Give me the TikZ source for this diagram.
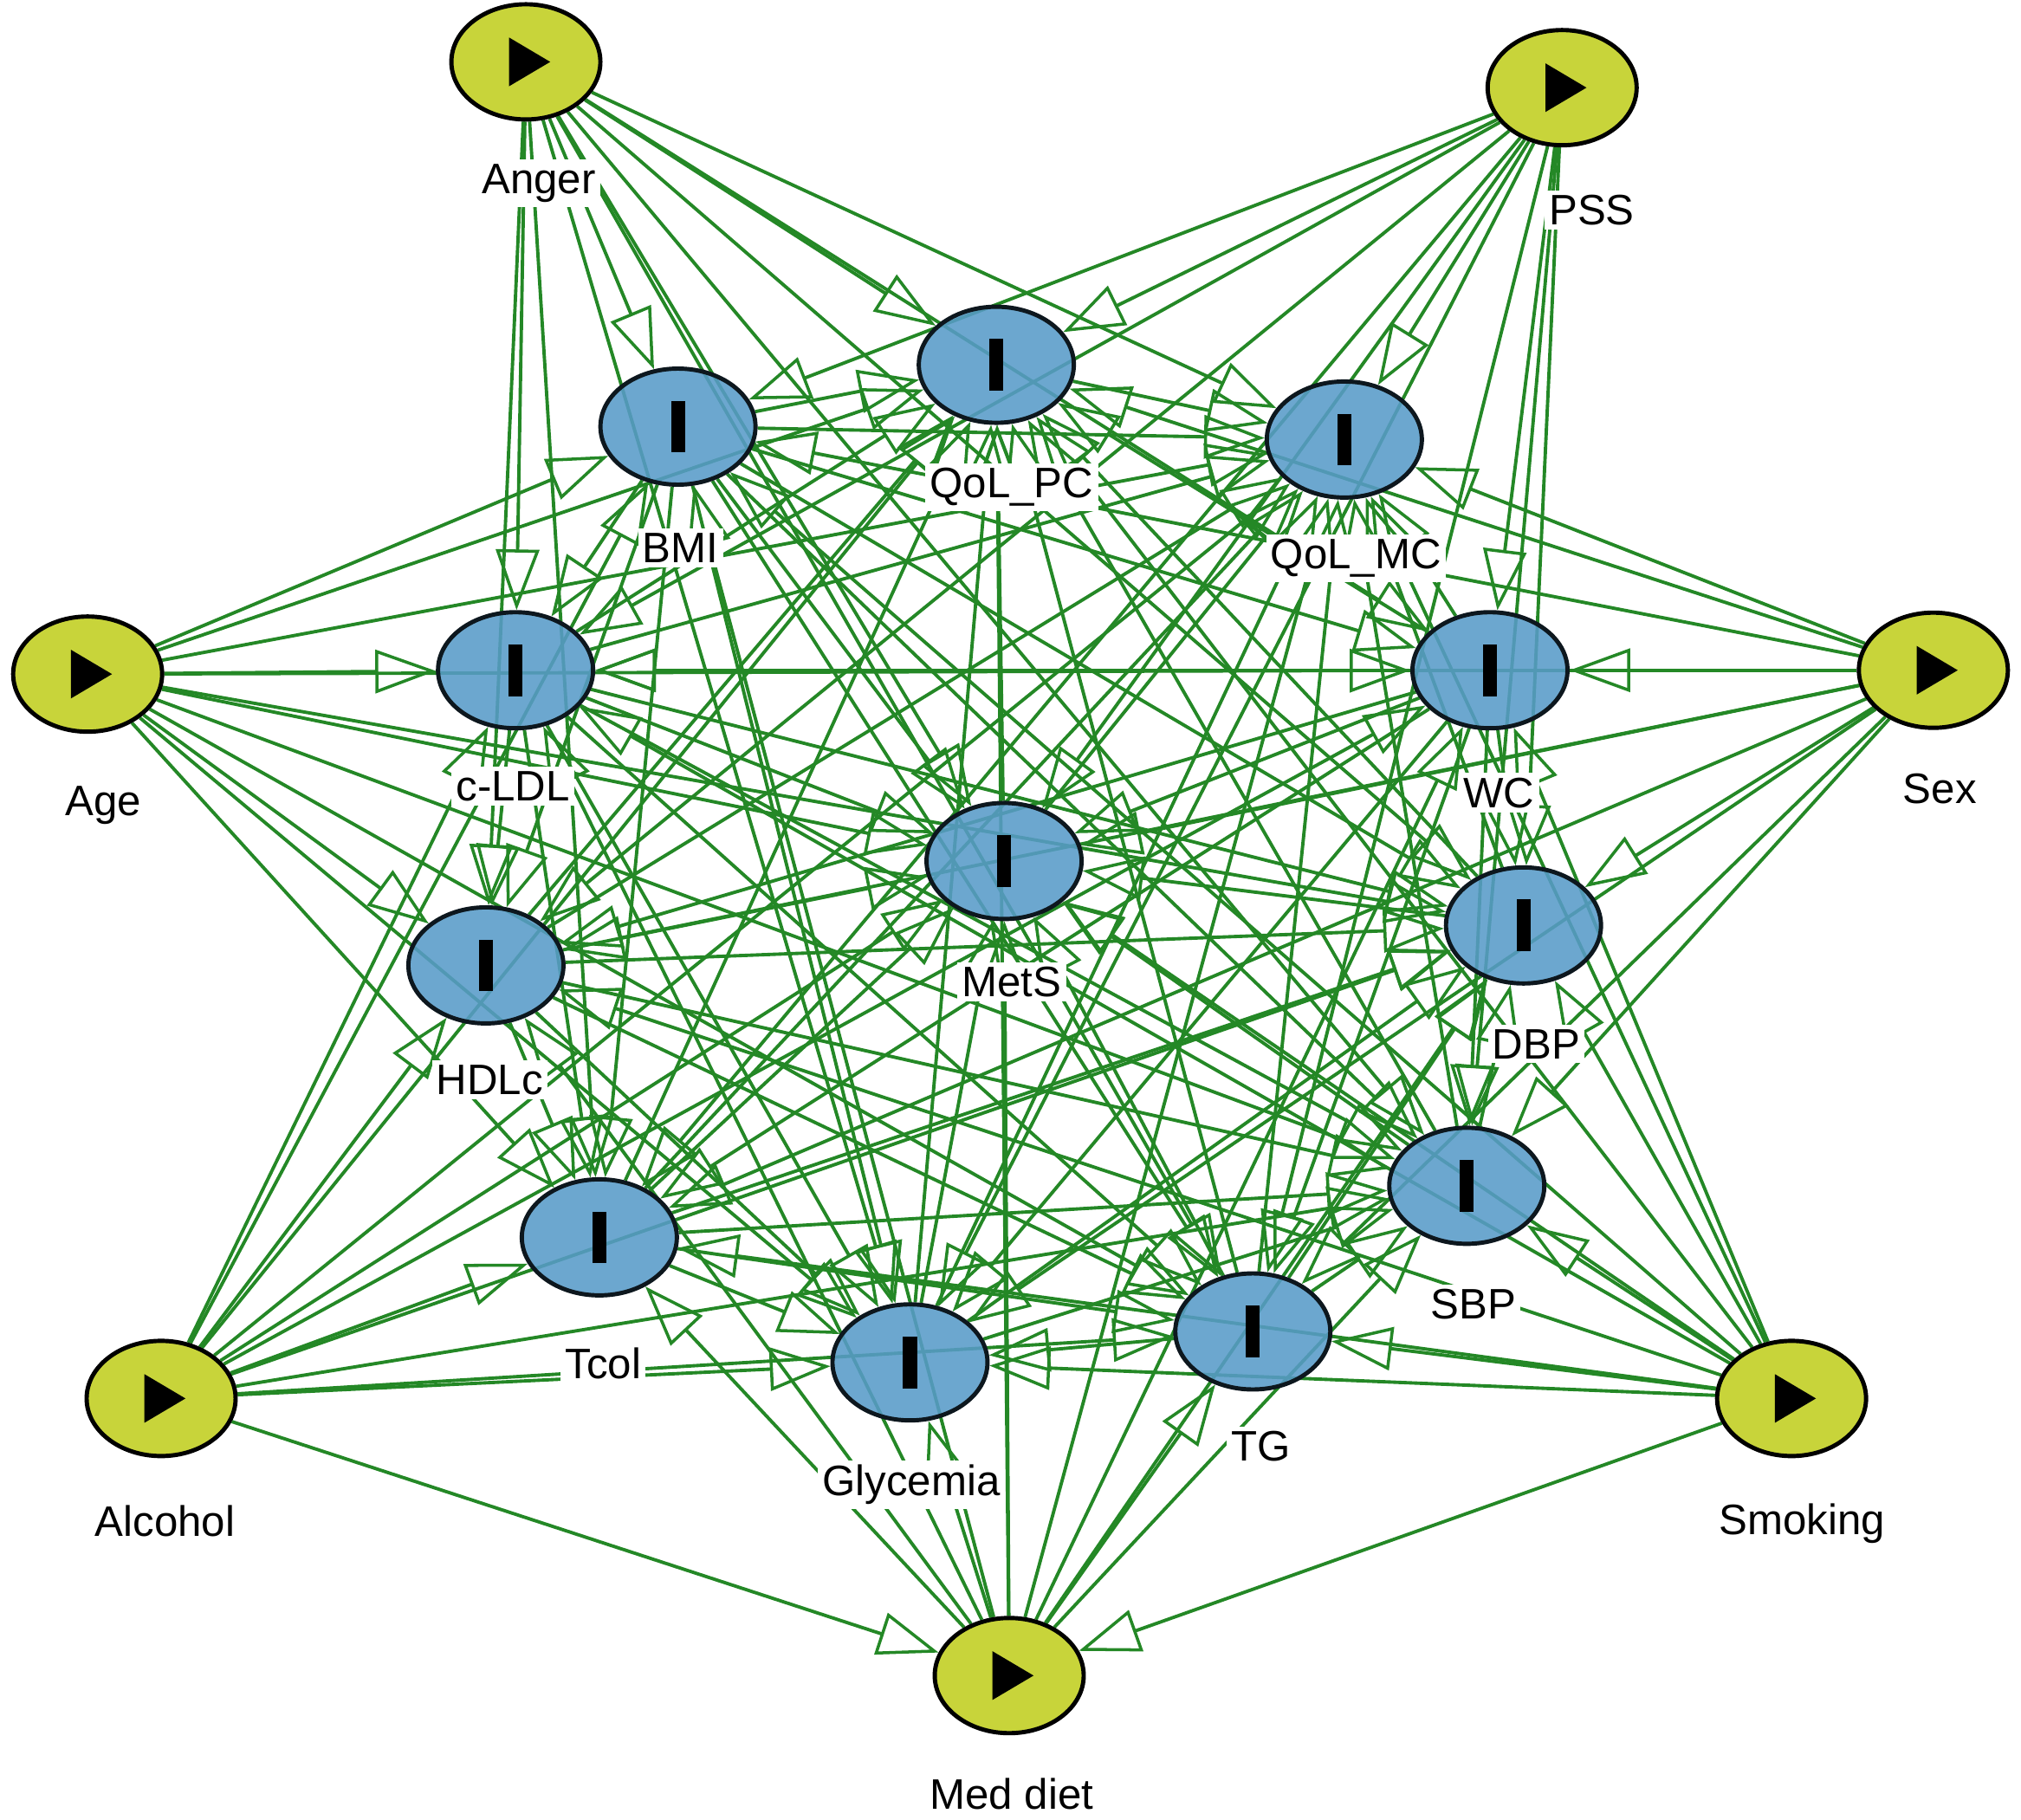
\documentclass[tikz,border=0pt]{standalone}
\usepackage{fontspec}
\setmainfont{Liberation Sans}
\usepackage{tikz}
\usetikzlibrary{arrows.meta,shapes.geometric,backgrounds}
\definecolor{netGreen}{RGB}{36,136,38}
\definecolor{netYellow}{RGB}{200,212,58}
\definecolor{netBlue}{RGB}{88,155,200}
\tikzset{
  exo/.style={ellipse,draw=black,line width=1.4pt,fill=netYellow,
    minimum width=17.2mm,minimum height=13.3mm,inner sep=0pt,
    path picture={\fill[black] ([xshift=-5.5pt,yshift=8pt]path picture bounding box.center)
      -- ++(13.5pt,-8pt) -- ++(-13.5pt,-8pt) -- cycle;}},
  endo/.style={ellipse,draw=black!85!netBlue,line width=1.4pt,fill=netBlue,fill opacity=0.88,
    minimum width=17.9mm,minimum height=13.4mm,inner sep=0pt,
    path picture={\fill[black,fill opacity=1] ([xshift=-2.3pt,yshift=-8.5pt]path picture bounding box.center)
      rectangle ++(4.6pt,17pt);}},
  lab/.style={fill=white,inner sep=1.5pt,font=\fontsize{14}{16}\selectfont},
  link/.style={draw=netGreen,line width=1.1pt,
    -{Triangle[open,length=7mm,width=5mm,line width=1pt]}},
}

\begin{document}
\begin{tikzpicture}[x=0.1488mm,y=-0.1488mm]
  \useasboundingbox (0,0) rectangle (1568,1412);
  % exogenous nodes
  \node[exo] (anger)   at (408,48)   {};
  \node[exo] (pss)     at (1212,68)  {};
  \node[exo] (age)     at (68,523)   {};
  \node[exo] (sex)     at (1500,520) {};
  \node[exo] (alcohol) at (125,1085) {};
  \node[exo] (smoking) at (1390,1085){};
  \node[exo] (meddiet) at (783,1300) {};
  % outcome nodes
  \node[endo] (qolpc) at (773,283)  {};
  \node[endo] (bmi)   at (526,331)  {};
  \node[endo] (qolmc) at (1043,341) {};
  \node[endo] (cldl)  at (400,520)  {};
  \node[endo] (wc)    at (1156,520) {};
  \node[endo] (mets)  at (779,668)  {};
  \node[endo] (hdlc)  at (377,749)  {};
  \node[endo] (dbp)   at (1182,718) {};
  \node[endo] (sbp)   at (1138,920) {};
  \node[endo] (tcol)  at (465,960)  {};
  \node[endo] (glyc)  at (706,1057) {};
  \node[endo] (tg)    at (972,1033) {};

  \begin{scope}[on background layer]
    \foreach \s in {anger,pss,age,sex,alcohol,smoking,meddiet}
      \foreach \t in {qolpc,bmi,qolmc,cldl,wc,mets,hdlc,dbp,sbp,tcol,glyc,tg}
        \draw[link] (\s) -- (\t);
    \draw[link] (alcohol) -- (meddiet);
    \draw[link] (smoking) -- (meddiet);
    % links among the outcomes
    \foreach \a [count=\i] in {bmi,wc,cldl,hdlc,tcol,tg,glyc,sbp,dbp,mets,qolpc,qolmc}
      \foreach \b [count=\j] in {bmi,wc,cldl,hdlc,tcol,tg,glyc,sbp,dbp,mets,qolpc,qolmc}{
        \ifnum\j>\i \draw[link] (\a) -- (\b); \fi
      }
  \end{scope}

  % labels
  \foreach \n/\x/\y/\txt in {anger/418/142/Anger, pss/1235/163/PSS, age/80/625/Age,
      sex/1505/612/Sex, alcohol/128/1180/Alcohol, smoking/1398/1182/Smoking,
      meddiet/785/1392/Med diet, qolpc/785/378/QoL\_PC, bmi/528/425/BMI,
      qolmc/1052/433/QoL\_MC, cldl/398/610/c-LDL, wc/1163/615/WC, mets/785/762/MetS,
      hdlc/380/838/HDLc, dbp/1192/810/DBP, sbp/1143/1012/SBP, tcol/468/1058/Tcol,
      glyc/707/1152/Glycemia, tg/978/1122/TG}
    \node[lab] (\n-l) at (\x,\y) {\txt};
\end{tikzpicture}
\end{document}
